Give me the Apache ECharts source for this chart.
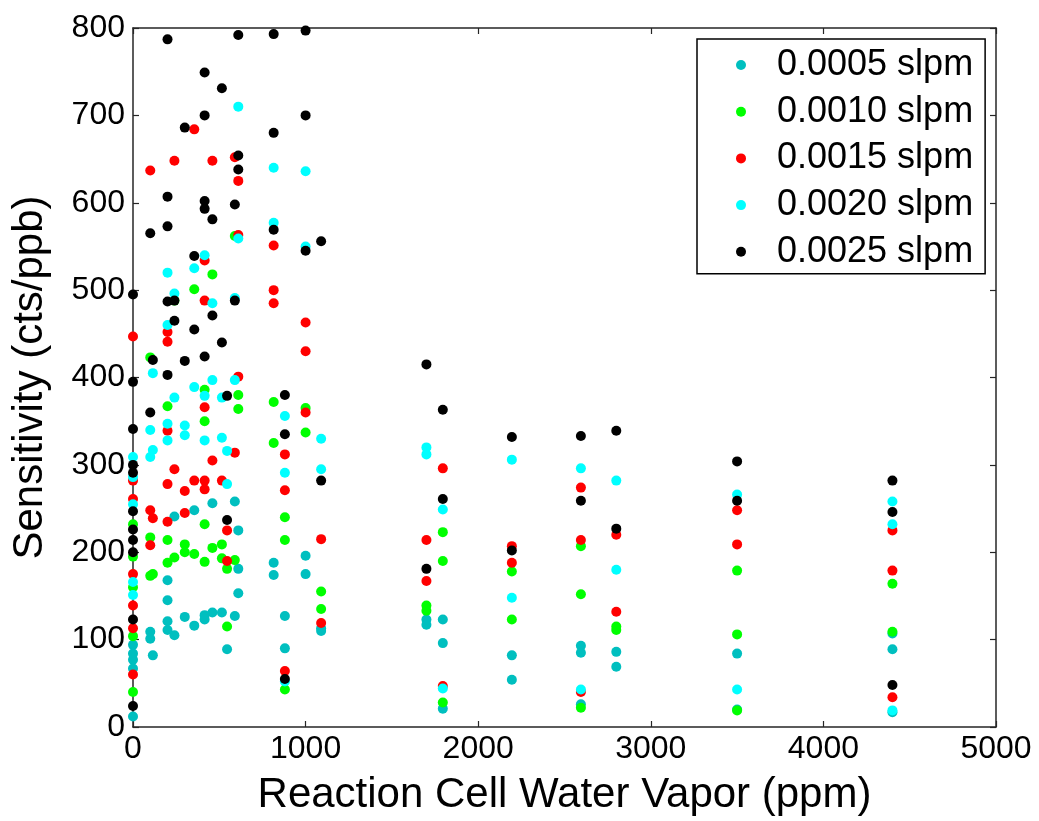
<!DOCTYPE html>
<html><head><meta charset="utf-8">
<script src="https://cdn.jsdelivr.net/npm/echarts@6/dist/echarts.min.js"></script>
<style>html,body{margin:0;padding:0;background:#fff}#c{width:1039px;height:821px}</style>
</head><body><div id="c"></div>
<script>
const seriesNames = ['0.0005 slpm','0.0010 slpm','0.0015 slpm','0.0020 slpm','0.0025 slpm'];
const seriesColors = ['#00BFBF','#00FF00','#FF0000','#00FFFF','#000000'];
const xTicks = [0,1000,2000,3000,4000,5000];
const yTicks = [0,100,200,300,400,500,600,700,800];

const s0005 = [[0,94],[0,84],[0,77],[0,67],[0,12],[100,109],[100,101],[115,82],[200,168],[200,145],[200,121],[200,111],
 [240,241],[240,105],[300,126],[355,248],[355,116],[415,128],[415,123],[460,256],[460,131],[515,131],[545,89],
 [590,258],[590,127],[610,225],[610,181],[610,153],[815,188],[815,174],[880,127],[880,90],[1000,196],[1000,175],
 [1090,113],[1090,110],[1700,123],[1700,117],[1795,123],[1795,96],[1795,21],[2195,82],[2195,54],[2595,93],[2595,85],
 [2595,26],[2800,86],[2800,69],[3500,84],[3500,20],[4400,107],[4400,89],[4400,17]];
const s0010 = [[0,232],[0,195],[0,160],[0,104],[0,40],[100,423],[100,217],[100,173],[115,175],[200,367],[200,214],[200,188],
 [240,488],[240,194],[300,209],[300,200],[355,501],[355,198],[415,386],[415,350],[415,232],[415,189],[460,518],[460,205],
 [515,209],[515,193],[545,181],[545,115],[590,562],[590,191],[610,380],[610,364],[815,372],[815,325],[880,240],[880,214],
 [880,43],[1000,365],[1000,337],[1090,155],[1090,135],[1700,139],[1700,133],[1795,223],[1795,190],[1795,28],[2195,178],
 [2195,123],[2595,207],[2595,152],[2595,22],[2800,115],[2800,111],[3500,179],[3500,106],[3500,19],[4400,164],[4400,109]];
const s0015 = [[0,447],[0,282],[0,261],[0,175],[0,139],[0,113],[0,60],[100,637],[100,248],[100,208],[115,239],
 [200,452],[200,441],[200,339],[200,278],[200,235],[240,648],[240,295],[300,270],[300,245],[355,684],[355,282],
 [415,534],[415,488],[415,366],[415,282],[415,272],[460,648],[460,305],[515,282],[545,225],[545,190],[590,652],[590,314],
 [610,625],[610,563],[610,401],[815,551],[815,500],[815,485],[880,312],[880,271],[880,64],[1000,463],[1000,430],[1000,360],
 [1090,215],[1090,119],[1700,214],[1700,167],[1795,296],[1795,47],[2195,207],[2195,188],[2595,274],[2595,214],[2595,40],
 [2800,220],[2800,132],[3500,248],[3500,209],[4400,225],[4400,179],[4400,34]];
const s0020 = [[0,309],[0,286],[0,255],[0,166],[0,151],[100,340],[100,309],[115,405],[115,317],[200,520],[200,460],[200,347],
 [200,328],[240,496],[240,377],[300,345],[300,334],[355,525],[355,389],[415,540],[415,379],[415,328],[460,485],[460,397],
 [515,377],[515,331],[545,316],[545,278],[590,491],[590,397],[610,710],[610,559],[815,640],[815,577],[880,356],[880,291],
 [880,52],[1000,636],[1000,550],[1090,330],[1090,295],[1700,320],[1700,312],[1795,249],[1795,44],[2195,306],[2195,148],
 [2595,296],[2595,43],[2800,282],[2800,180],[3500,266],[3500,43],[4400,258],[4400,232],[4400,19]];
const s0025 = [[0,495],[0,395],[0,341],[0,300],[0,291],[0,247],[0,226],[0,214],[0,200],[0,123],[0,24],[100,565],[100,360],
 [115,420],[200,787],[200,607],[200,573],[200,487],[200,403],[240,488],[240,465],[300,686],[300,419],[355,539],[355,455],
 [415,749],[415,700],[415,602],[415,593],[415,424],[460,581],[460,471],[515,731],[515,440],[545,379],[545,237],[590,598],
 [590,488],[610,792],[610,654],[610,638],[815,793],[815,680],[815,569],[880,380],[880,335],[880,55],[1000,797],[1000,700],
 [1000,545],[1090,556],[1090,282],[1700,415],[1700,181],[1795,363],[1795,261],[2195,332],[2195,202],[2595,333],[2595,259],
 [2800,339],[2800,227],[3500,304],[3500,259],[4400,282],[4400,246],[4400,48]];
const allData = [s0005,s0010,s0015,s0020,s0025];

const FONT = 'Liberation Sans, Arial, sans-serif';
const axisLine = {show:true, onZero:false, lineStyle:{color:'#262626', width:1.5}};
const tick = {show:true, inside:true, length:6, lineStyle:{color:'#262626', width:1.2}};
const chart = echarts.init(document.getElementById('c'), null, {renderer:'canvas'});
chart.setOption({
  animation:false,
  backgroundColor:'#fff',
  grid:{left:133, right:43, top:28, bottom:90, containLabel:false},
  xAxis:[
    {type:'value', min:0, max:5000, interval:1000, position:'bottom',
     name:'Reaction Cell Water Vapor (ppm)', nameLocation:'middle', nameGap:47,
     nameTextStyle:{fontFamily:FONT, fontSize:42, color:'#000'},
     axisLine, axisTick:tick,
     axisLabel:{fontFamily:FONT, fontSize:32, color:'#000', margin:6, formatter:v=>String(v)},
     splitLine:{show:false}},
    {type:'value', min:0, max:5000, interval:1000, position:'top',
     axisLine, axisTick:tick, axisLabel:{show:false}, splitLine:{show:false}}
  ],
  yAxis:[
    {type:'value', min:0, max:800, interval:100, position:'left',
     name:'Sensitivity (cts/ppb)', nameLocation:'middle', nameGap:82,
     nameTextStyle:{fontFamily:FONT, fontSize:42, color:'#000'},
     axisLine, axisTick:tick,
     axisLabel:{fontFamily:FONT, fontSize:32, color:'#000', margin:8, formatter:v=>String(v)},
     splitLine:{show:false}},
    {type:'value', min:0, max:800, interval:100, position:'right',
     axisLine, axisTick:tick, axisLabel:{show:false}, splitLine:{show:false}}
  ],
  legend:{
    orient:'vertical', left:697, top:39,
    backgroundColor:'#fff', borderColor:'#000', borderWidth:1.5, borderRadius:0,
    padding:[8,12,4,39], itemGap:10.7, itemWidth:10, itemHeight:10, icon:'circle',
    textStyle:{fontFamily:FONT, fontSize:36, color:'#000', lineHeight:36, padding:[0,0,0,26]},
    data:seriesNames
  },
  series: allData.map((d,i)=>({
    name:seriesNames[i], type:'scatter', data:d, symbol:'circle', symbolSize:10,
    itemStyle:{color:seriesColors[i], opacity:1}, z:2+i
  }))
});
</script></body></html>
